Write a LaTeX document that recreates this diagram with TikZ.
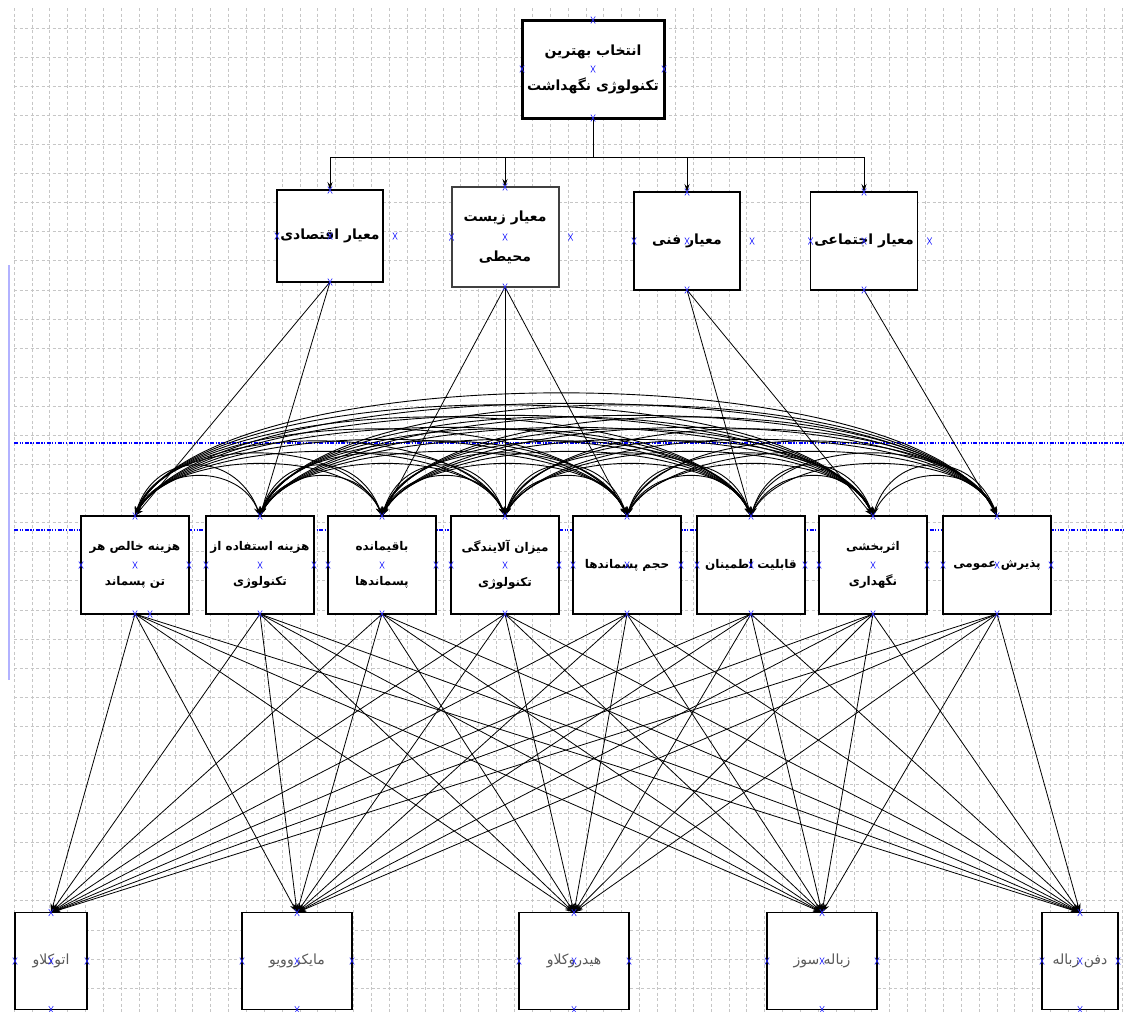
\documentclass[tikz,border=0pt]{standalone}
\usepackage{fontspec}
\newfontfamily\fafont[Script=Arabic]{DejaVu Sans}
\TeXXeTstate=1
\usetikzlibrary{arrows.meta,calc,shapes.misc}
\newcommand\fatxt[1]{\beginR #1\endR}
\tikzset{
 box/.style={draw=black, fill=white, line width=1.3pt, inner sep=2pt, outer sep=0pt, align=center},
 goalbox/.style={box, line width=3pt, font=\fafont\fontsize{14}{35}\selectfont\bfseries},
 critbox/.style={box, font=\fafont\fontsize{14}{40}\selectfont\bfseries},
 subbox/.style={box, minimum width=108pt, minimum height=98pt, font=\fafont\fontsize{12}{35}\selectfont\bfseries},
 altbox/.style={box, minimum height=97pt, text=black!65, font=\fafont\fontsize{14}{16}\selectfont},
 gridln/.style={gray!45, line width=0.6pt, dash pattern=on 3pt off 2.5pt},
 guide/.style={blue, line width=1.2pt, dash pattern=on 4pt off 1.5pt on 1.2pt off 1.5pt on 1.2pt off 1.5pt},
 link/.style={black, line width=0.8pt, -{Stealth[length=9pt,width=6pt]}},
 busarrow/.style={black, line width=0.9pt, -{Stealth[length=8pt,width=5pt]}},
 arcln/.style={black, line width=0.9pt, -{Stealth[length=9pt,width=6pt]}},
 xmark/.style={cross out, draw=blue!85, line width=0.6pt, minimum width=4.5pt, minimum height=7pt, inner sep=0pt, outer sep=0pt},
}
\begin{document}
\begin{tikzpicture}[x=1pt,y=-1pt]
\useasboundingbox[fill=white] (0,0) rectangle (1125,1012);
% grid
\foreach \k in {0,...,62} { \draw[gridln] ({14+17.87*\k},8) -- ({14+17.87*\k},1012); }
\foreach \k in {0,...,33} { \draw[gridln] (14,{28+29.09*\k}) -- (1125,{28+29.09*\k}); }
\draw[guide] (14,443) -- (1125,443);
\draw[guide] (14,530) -- (1125,530);
\draw[blue!30, line width=1.5pt] (9,265) -- (9,680);
% goal
\node[goalbox, minimum width=142pt, minimum height=98pt] (g) at (593,69) {\fatxt{انتخاب بهترین}\\\fatxt{تکنولوژی نگهداشت}};
% criteria
\node[critbox, minimum width=106pt, minimum height=92pt] (c1) at (330,236) {\fatxt{معیار اقتصادی}};
\node[critbox, draw=black!75, line width=2pt, minimum width=107pt, minimum height=100pt] (c2) at (505,237) {\fatxt{معیار زیست}\\\fatxt{محیطی}};
\node[critbox, minimum width=106pt, minimum height=98pt] (c3) at (687,241) {\fatxt{معیار فنی}};
\node[critbox, minimum width=107pt, minimum height=98pt] (c4) at (864,241) {\fatxt{معیار اجتماعی}};
% sub-criteria
\node[subbox] (s1) at (135,565) {\fatxt{هزینه خالص هر}\\\fatxt{تن پسماند}};
\node[subbox] (s2) at (260,565) {\fatxt{هزینه استفاده از}\\\fatxt{تکنولوژی}};
\node[subbox] (s3) at (382,565) {\fatxt{باقیمانده}\\\fatxt{پسماندها}};
\node[subbox] (s4) at (505,565) {\fatxt{میزان آلایندگی}\\\fatxt{تکنولوژی}};
\node[subbox] (s5) at (627,565) {\fatxt{حجم پسماندها}};
\node[subbox] (s6) at (751,565) {\fatxt{قابلیت اطمینان}};
\node[subbox] (s7) at (873,565) {\fatxt{اثربخشی}\\\fatxt{نگهداری}};
\node[subbox] (s8) at (997,565) {\fatxt{پذیرش عمومی}};
% alternatives
\node[altbox, minimum width=72pt] (a1) at (51,961) {\fatxt{اتوکلاو}};
\node[altbox, minimum width=110pt] (a2) at (297,961) {\fatxt{مایکروویو}};
\node[altbox, minimum width=110pt] (a3) at (574,961) {\fatxt{هیدروکلاو}};
\node[altbox, minimum width=110pt] (a4) at (822,961) {\fatxt{زباله سوز}};
\node[altbox, minimum width=76pt] (a5) at (1080,961) {\fatxt{دفن زباله}};
% goal -> criteria bus
\coordinate (bus) at (593,157);
\draw[line width=0.9pt] (g.south) -- (bus);
\draw[line width=0.9pt] (c1.north |- bus) -- (c4.north |- bus);
\foreach \c in {c1,c2,c3,c4} { \draw[busarrow] (\c.north |- bus) -- (\c.north); }
% criteria -> sub-criteria
\foreach \c/\s in {c1/s1,c1/s2,c2/s3,c2/s4,c2/s5,c3/s6,c3/s7,c4/s8} { \draw[link] (\c.south) -- (\s.north); }
% inner dependences among sub-criteria
\foreach \i in {1,...,7}{
  \pgfmathtruncatemacro\ii{\i+1}
  \foreach \j in {\ii,...,8}{
    \pgfmathsetmacro\h{(28+12*(\j-\i))/0.75}
    \pgfmathsetmacro\hh{\h+14}
    \pgfmathsetmacro\dx{12+8*(\j-\i)}
    \draw[arcln] (s\i.north) .. controls ($(s\i.north)+(\dx,-\h)$) and ($(s\j.north)+(-\dx,-\h)$) .. (s\j.north);
    \draw[arcln] (s\j.north) .. controls ($(s\j.north)+(-\dx,-\hh)$) and ($(s\i.north)+(\dx,-\hh)$) .. (s\i.north);
  }
}
% sub-criteria -> alternatives
\foreach \s in {1,...,8}{ \foreach \a in {1,...,5}{ \draw[link] (s\s.south) -- (a\a.north); } }
% connection markers
\foreach \nm in {g,s1,s2,s3,s4,s5,s6,s7,s8,a1,a2,a3,a4,a5}{
  \foreach \an in {north,south,west,east,center}{ \node[xmark] at (\nm.\an) {}; }
}
\foreach \nm in {c1,c2,c3,c4}{
  \node[xmark] at (\nm.north) {};
  \node[xmark] at (\nm.south) {};
  \node[xmark] at (\nm.west) {};
  \node[xmark] at (\nm.center) {};
  \node[xmark] at ($(\nm.east)+(12,0)$) {};
}
\node[xmark] at ($(s1.south)+(15,0)$) {};
\end{tikzpicture}
\end{document}
